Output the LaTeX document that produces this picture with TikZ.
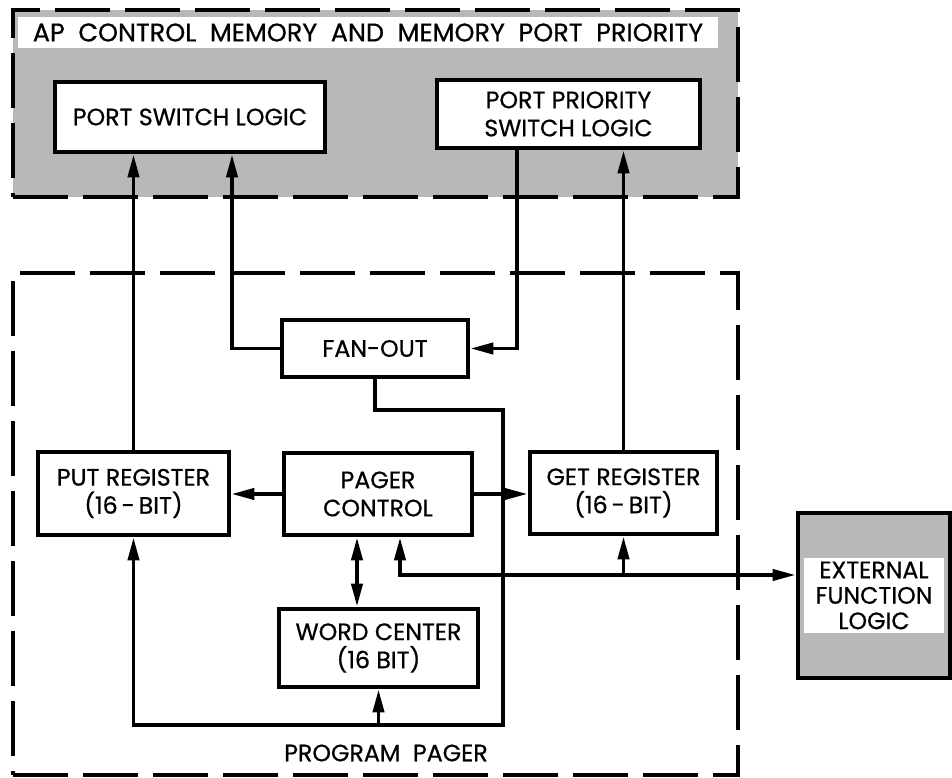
\documentclass[tikz,border=0pt]{standalone}
\usepackage{fontspec}
\setmainfont{Poppins}[FakeBold=0.6]
\usetikzlibrary{arrows.meta,positioning}

\begin{document}
\begin{tikzpicture}[
    block/.style={rectangle, draw, line width=2.6pt, fill=white, align=center, inner sep=0pt, font=\fontsize{13.5}{16}\selectfont},
    region/.style={rectangle, draw, line width=2.4pt, dash pattern=on 1.1cm off 0.3cm},
    shaded/.style={fill=black!28},
    strip/.style={fill=white, inner sep=0pt, align=center},
    arrow/.style={-{Triangle[length=4.6mm,width=2.2mm]}, line width=2.2pt},
    twoway/.style={{Triangle[length=4.6mm,width=2.2mm]}-{Triangle[length=4.6mm,width=2.2mm]}, line width=2.2pt}
]
\useasboundingbox (0,0) rectangle (19.04,15.56);

% Regions
\node[region, shaded, minimum width=14.5cm, minimum height=3.74cm] (apctl) at (7.51,13.49) {};
\node[strip, minimum width=14cm, minimum height=0.62cm, font=\fontsize{14.5}{16}\selectfont] (title) at (7.36,14.91) {AP\ \ CONTROL\ \ MEMORY\ \ AND\ \ MEMORY\ \ PORT\ \ PRIORITY};
\node[region, minimum width=14.5cm, minimum height=10.04cm] (pager region) at (7.51,5.08) {};
\node[font=\fontsize{13.5}{16}\selectfont] (pagerlabel) at (7.72,0.5) {PROGRAM\ \ PAGER};

% Blocks
\node[block, minimum width=5.4cm, minimum height=1.4cm] (psl) at (3.8,13.22) {PORT SWITCH LOGIC};
\node[block, minimum width=5.26cm, minimum height=1.36cm] (ppsl) at (11.37,13.28) {PORT PRIORITY\\SWITCH LOGIC};
\node[block, minimum width=3.72cm, minimum height=1.14cm] (fanout) at (7.5,8.59) {FAN-OUT};
\node[block, minimum width=3.82cm, minimum height=1.66cm] (put) at (2.67,5.69) {PUT REGISTER\\(16\,-\,BIT)};
\node[block, minimum width=3.76cm, minimum height=1.64cm] (pager) at (7.56,5.68) {PAGER\\CONTROL};
\node[block, minimum width=3.74cm, minimum height=1.64cm] (get) at (12.47,5.70) {GET REGISTER\\(16\,-\,BIT)};
\node[block, minimum width=3.98cm, minimum height=1.56cm] (word) at (7.57,2.6) {WORD CENTER\\(16 BIT)};
\node[block, shaded, minimum width=3.04cm, minimum height=3.3cm] (ext) at (17.48,3.65) {};
\node[strip, minimum width=2.8cm, minimum height=1.5cm, font=\fontsize{13.5}{14.5}\selectfont] (extlabel) at (ext) {EXTERNAL\\FUNCTION\\LOGIC};

% Bends
\coordinate (bend) at (10.06,7.36);
\coordinate (bus) at (10.06,1.06);
\coordinate (extin) at ([yshift=0.41cm]ext.west);

% Connections
\draw[arrow] (put.north) -- (put.north |- psl.south);
\draw[arrow] (fanout.west) -| ([xshift=0.84cm]psl.south);
\draw[arrow] ([xshift=-1.03cm]ppsl.south) |- (fanout.east);
\draw[arrow] (get.north) -- (get.north |- ppsl.south);
\draw[arrow] (pager.west) -- (pager.west -| put.east);
\draw[arrow] (pager.east) -- (pager.east -| get.west);
\draw[twoway] ([xshift=-0.42cm]pager.south) -- ([xshift=-0.42cm]pager.south |- word.north);
\draw[arrow] (fanout.south) |- (bend) -- (bus) -| (put.south);
\draw[arrow] (word.south |- bus) -- (word.south);
\draw[twoway] ([xshift=0.44cm]pager.south) |- (extin);
\draw[arrow] (get.south |- extin) -- (get.south);

\end{tikzpicture}
\end{document}
